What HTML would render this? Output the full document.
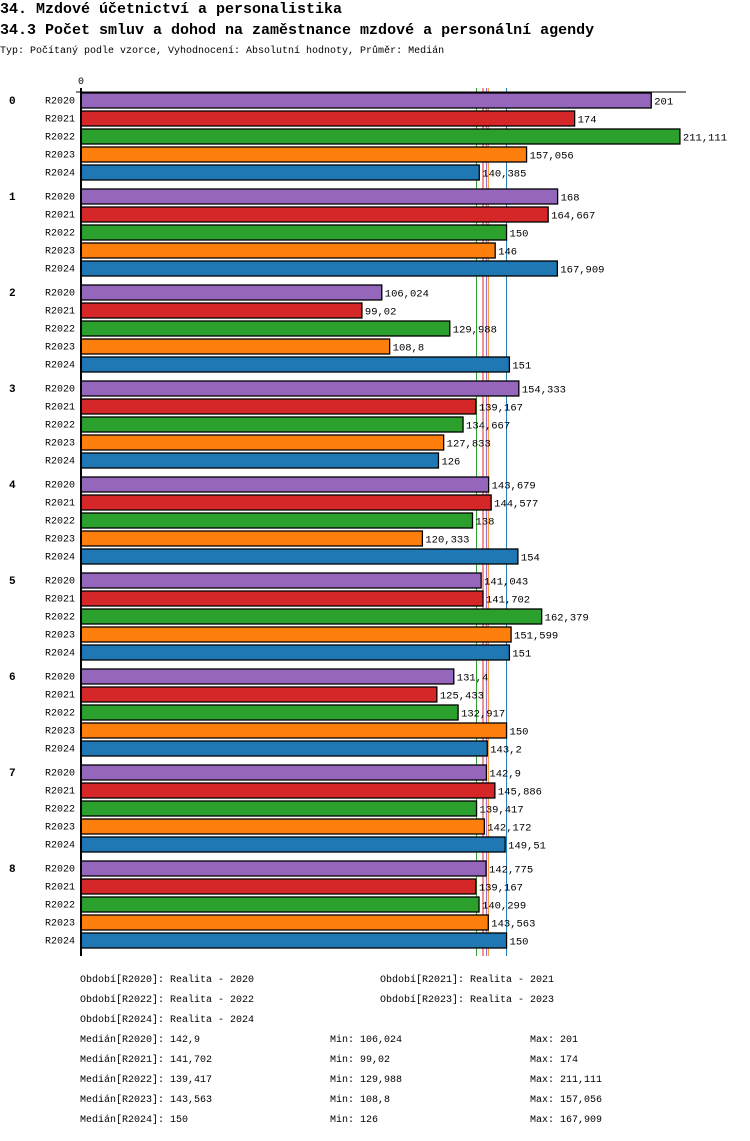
<!DOCTYPE html>
<html><head><meta charset="utf-8"><style>
body{margin:0;background:#fff;width:750px;height:1136px;overflow:hidden}
svg text{font-family:"Liberation Mono","DejaVu Sans Mono",monospace;fill:#000}
</style></head><body>
<svg id="chart" width="750" height="1136" xmlns="http://www.w3.org/2000/svg">
<text x="0" y="13" font-size="15" font-weight="bold">34. Mzdové účetnictví a personalistika</text>
<text x="0" y="34" font-size="15" font-weight="bold">34.3 Počet smluv a dohod na zaměstnance mzdové a personální agendy</text>
<text x="0" y="53" font-size="10">Typ: Počítaný podle vzorce, Vyhodnocení: Absolutní hodnoty, Průměr: Medián</text>
<g id="plot"></g>
<g id="legend"></g>
</svg>
<script>
const groups=["0","1","2","3","4","5","6","7","8"];
const series=["R2020","R2021","R2022","R2023","R2024"];
const colors=["#9467bd","#d62728","#2ca02c","#ff7f0e","#1f77b4"];
const values=[
[201,174,211.111,157.056,140.385],
[168,164.667,150,146,167.909],
[106.024,99.02,129.988,108.8,151],
[154.333,139.167,134.667,127.833,126],
[143.679,144.577,138,120.333,154],
[141.043,141.702,162.379,151.599,151],
[131.4,125.433,132.917,150,143.2],
[142.9,145.886,139.417,142.172,149.51],
[142.775,139.167,140.299,143.563,150]];
const medians=[142.9,141.702,139.417,143.563,150];
const mins=[106.024,99.02,129.988,108.8,126];
const maxs=[201,174,211.111,157.056,167.909];
const periodLabels=["Realita - 2020","Realita - 2021","Realita - 2022","Realita - 2023","Realita - 2024"];
const NS="http://www.w3.org/2000/svg";
const x0=81,k=2.837,top0=92,gp=96,bp=18;
const xs=v=>x0+v*k;
const fmt=v=>String(v).replace('.',',');
const plot=document.getElementById('plot');
function mk(t,a,p){const e=document.createElementNS(NS,t);for(const n in a)e.setAttribute(n,a[n]);(p||plot).appendChild(e);return e;}
medians.forEach((m,i)=>{
 const l=mk('line',{x1:xs(m),y1:88,x2:xs(m),y2:956,stroke:colors[i],'stroke-width':1});
 
 
});
let ax=mk('line',{x1:76,y1:92,x2:686,y2:92,stroke:'#000','stroke-width':1});


let zl=mk('text',{x:81,y:84,'font-size':10,'text-anchor':'middle'});zl.textContent='0';


groups.forEach((g,gi)=>{
 const gt=mk('text',{x:9,y:top0+gi*gp+12,'font-size':11,'font-weight':'bold'});gt.textContent=g;
 
 
 series.forEach((s,si)=>{
  const y=top0+gi*gp+si*bp;
  const lt=mk('text',{x:75,y:y+11.5,'font-size':10,'text-anchor':'end'});lt.textContent=s;
  
  
  const v=values[gi][si];
  const r=mk('rect',{x:x0,y:y+1,width:xs(v)-x0,height:15,fill:colors[si],stroke:'#000','stroke-width':1.3});
  
  
  const vt=mk('text',{x:xs(v)+3,y:y+12.5,'font-size':10.5});vt.textContent=fmt(v);
  
  
 });
});
const va=mk('line',{x1:81,y1:88,x2:81,y2:956,stroke:'#000','stroke-width':2});


const lg=document.getElementById('legend');
series.forEach((s,i)=>{
 const t=mk('text',{x:i%2?380:80,y:982+Math.floor(i/2)*20,'font-size':10},lg);t.textContent='Období['+s+']: '+periodLabels[i];
 
 
 const y=1042+i*20;
 const a=mk('text',{x:80,y:y,'font-size':10},lg);a.textContent='Medián['+s+']: '+fmt(medians[i]);
 
 
 const b=mk('text',{x:330,y:y,'font-size':10},lg);b.textContent='Min: '+fmt(mins[i]);
 
 
 const c=mk('text',{x:530,y:y,'font-size':10},lg);c.textContent='Max: '+fmt(maxs[i]);
 
 
});
</script>
</body></html>
